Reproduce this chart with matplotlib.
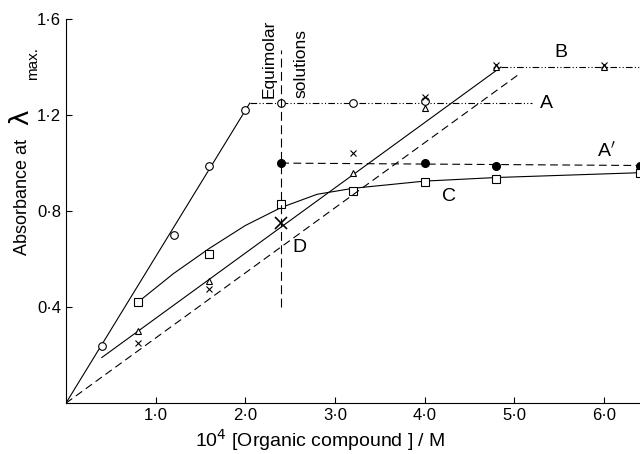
import matplotlib
matplotlib.use("Agg")
import matplotlib.pyplot as plt

plt.rcParams['font.family'] = ['Liberation Sans', 'DejaVu Sans']
plt.rcParams['mathtext.fontset'] = 'dejavusans'

# Curve A (open circles)
A_x = [0.4, 1.2, 1.6, 2.0, 2.4, 3.2, 4.0]
A_y = [0.24, 0.70, 0.99, 1.22, 1.25, 1.25, 1.26]
A_rise_x = [0.0, 2.05]
A_rise_y = [0.0, 1.25]
A_flat_x = [2.05, 5.2]
A_flat_y = [1.25, 1.25]

# Curve A' (filled circles)
Ap_x = [2.4, 4.0, 4.8, 6.4]
Ap_y = [1.00, 1.00, 0.99, 0.99]

# Curve B (triangles and crosses)
B_tri_x = [0.8, 1.6, 3.2, 4.0, 4.8, 6.0]
B_tri_y = [0.30, 0.51, 0.96, 1.23, 1.40, 1.40]
B_x_x = [0.8, 1.6, 3.2, 4.0, 4.8, 6.0]
B_x_y = [0.25, 0.475, 1.04, 1.275, 1.41, 1.41]
B_rise_x = [0.4, 4.85]
B_rise_y = [0.19, 1.40]
B_flat_x = [4.85, 6.4]
B_flat_y = [1.40, 1.40]

# Curve C (open squares)
C_x = [0.8, 1.6, 2.4, 3.2, 4.0, 4.8, 6.4]
C_y = [0.42, 0.62, 0.83, 0.885, 0.92, 0.935, 0.96]
C_line_x = [0.8, 1.2, 1.6, 2.0, 2.4, 2.8, 3.2, 3.6, 4.0, 4.8, 6.4]
C_line_y = [0.42, 0.54, 0.645, 0.74, 0.815, 0.87, 0.895, 0.91, 0.925, 0.94, 0.96]

# Curve D (dashed)
D_x = [0.0, 5.05]
D_y = [0.0, 1.37]
D_big_x = [2.4]
D_big_y = [0.75]

# Equimolar marker line
equi_x = 2.4
equi_y = [0.40, 1.47]

xticks = [1.0, 2.0, 3.0, 4.0, 5.0, 6.0]
xticklabels = ["1·0", "2·0", "3·0", "4·0", "5·0", "6·0"]
yticks = [0.4, 0.8, 1.2, 1.6]
yticklabels = ["0·4", "0·8", "1·2", "1·6"]

fig = plt.figure(figsize=(6.4, 4.54), dpi=100)
ax = fig.add_axes([0.103, 0.112, 0.897, 0.846])
ax.set_xlim(0, 6.4)
ax.set_ylim(0, 1.6)

lw = 0.8
k = 'black'
chain = (0, (6, 2, 1, 2, 1, 2))
# A
ax.plot(A_rise_x, A_rise_y, color=k, lw=lw, ls='-')
ax.plot(A_flat_x, A_flat_y, color=k, lw=lw, ls=chain)
ax.plot(A_x, A_y, ls='none', marker='o', ms=5.5, mfc='white', mec=k, mew=0.8)
# A'
ax.plot([Ap_x[0], Ap_x[-1]], [Ap_y[0], Ap_y[-1]], color=k, lw=lw, ls=(0, (7, 4)))
ax.plot(Ap_x, Ap_y, ls='none', marker='o', ms=5.5, mfc=k, mec=k)
# B
ax.plot(B_rise_x, B_rise_y, color=k, lw=lw, ls='-')
ax.plot(B_flat_x, B_flat_y, color=k, lw=lw, ls=chain)
ax.plot(B_tri_x, B_tri_y, ls='none', marker='^', ms=4.5, mfc='white', mec=k, mew=0.8)
ax.plot(B_x_x, B_x_y, ls='none', marker='x', ms=4, mec=k, mew=0.8)
# C
ax.plot(C_line_x, C_line_y, color=k, lw=lw, ls='-')
ax.plot(C_x, C_y, ls='none', marker='s', ms=6, mfc='white', mec=k, mew=0.8)
# D
ax.plot(D_x, D_y, color=k, lw=lw, ls=(0, (7, 4)))
ax.plot(D_big_x, D_big_y, ls='none', marker='x', ms=8, mec=k, mew=1.2)
# equimolar vertical line
ax.plot([equi_x, equi_x], equi_y, color=k, lw=lw, ls=(0, (8, 4)))

# labels on curves
ax.text(5.28, 1.25, "A", fontsize=14, va='center', ha='left')
ax.text(5.52, 1.46, "B", fontsize=14, va='center', ha='center')
ax.text(6.02, 1.05, "A$'$", fontsize=14, va='center', ha='center')
ax.text(4.27, 0.86, "C", fontsize=14, va='center', ha='center')
ax.text(2.6, 0.65, "D", fontsize=14, va='center', ha='center')
ax.text(2.27, 1.27, "Equimolar", rotation=90, fontsize=12.5, va='bottom', ha='center', clip_on=False)
ax.text(2.62, 1.27, "solutions", rotation=90, fontsize=12.5, va='bottom', ha='center', clip_on=False)

for s in ['top', 'right']:
    ax.spines[s].set_visible(False)
for s in ['left', 'bottom']:
    ax.spines[s].set_linewidth(0.8)

ax.set_xticks(xticks)
ax.set_xticklabels(xticklabels, fontsize=12)
ax.set_yticks(yticks)
ax.set_yticklabels(yticklabels, fontsize=12)
ax.tick_params(direction='in', length=4, width=0.8)

fig.text(0.035, 0.566, "Absorbance at", rotation=90, fontsize=13, ha='center', va='center')
fig.text(0.034, 0.742, "λ", rotation=90, fontsize=19, ha='center', va='center',
         family='DejaVu Sans')
fig.text(0.052, 0.86, "max.", rotation=90, fontsize=11, ha='center', va='center')
fig.text(0.5, 0.03, r"10$^{4}$ [Organic compound ] / M", fontsize=14,
         ha='center', va='center')

fig.savefig("out.png", dpi=100)
